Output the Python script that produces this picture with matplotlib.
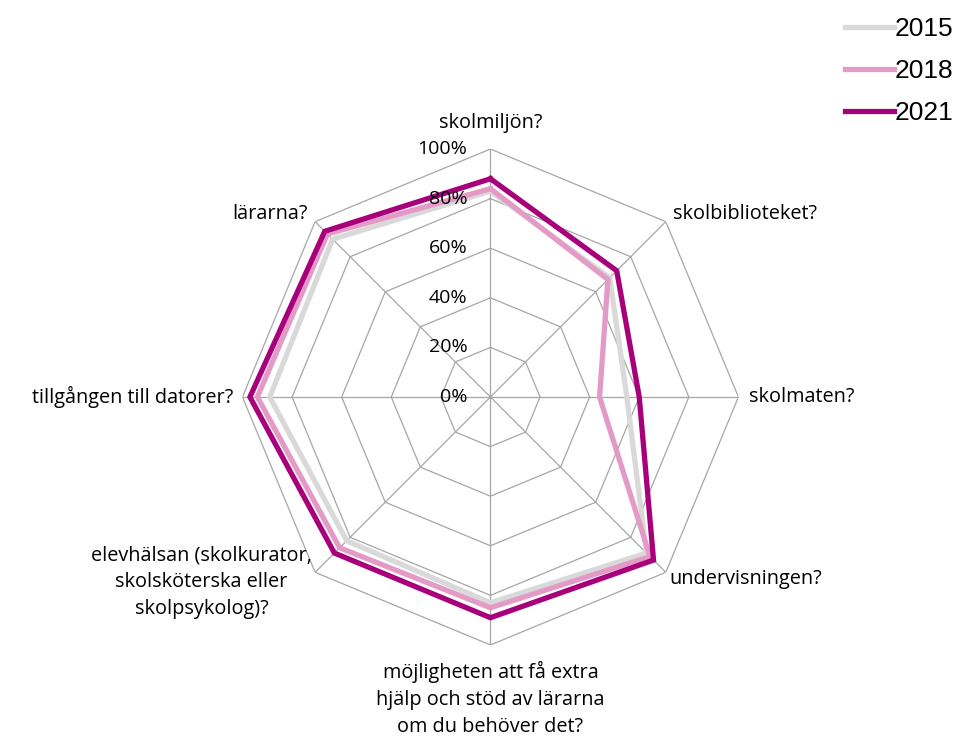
import numpy as np
import matplotlib
matplotlib.use("Agg")
import matplotlib.pyplot as plt

# ---- data ----
categories = [
    "skolmiljön?",
    "skolbiblioteket?",
    "skolmaten?",
    "undervisningen?",
    "möjligheten att få extra\nhjälp och stöd av lärarna\nom du behöver det?",
    "elevhälsan (skolkurator,\nskolsköterska eller\nskolpsykolog)?",
    "tillgången till datorer?",
    "lärarna?",
]
years = ["2015", "2018", "2021"]
v2015 = [0.83, 0.68, 0.55, 0.89, 0.83, 0.82, 0.89, 0.90]
v2018 = [0.84, 0.67, 0.44, 0.91, 0.85, 0.86, 0.94, 0.93]
v2021 = [0.88, 0.72, 0.60, 0.93, 0.89, 0.89, 0.97, 0.945]
colors = ["#d9d9d9", "#e49ac6", "#a8007a"]
levels = [0.0, 0.2, 0.4, 0.6, 0.8, 1.0]
level_labels = ["0%", "20%", "40%", "60%", "80%", "100%"]

plt.rcParams['font.family'] = ['Open Sans', 'DejaVu Sans']

n = len(categories)
theta = np.arange(n) * 2 * np.pi / n
theta_c = np.append(theta, theta[0])

fig = plt.figure(figsize=(9.63, 7.36), dpi=100)
ax = fig.add_axes([0.2518, 0.1236, 0.515, 0.674], projection='polar')
ax.set_theta_offset(np.pi / 2)
ax.set_theta_direction(-1)
ax.set_ylim(0, 1)
ax.grid(False)
ax.spines['polar'].set_visible(False)
ax.set_xticks([])
ax.set_yticks([])
ax.patch.set_alpha(0)

# octagon grid
for lv in levels[1:]:
    ax.plot(theta_c, [lv] * (n + 1), color="#a6a6a6", lw=0.9, zorder=1)
for t in theta:
    ax.plot([t, t], [0, 1], color="#a6a6a6", lw=0.9, zorder=1)

# series
for vals, col, yr in zip([v2015, v2018, v2021], colors, years):
    ax.plot(theta_c, vals + [vals[0]], color=col, lw=3.8, label=yr,
            solid_joinstyle='miter', zorder=3)

# percentage labels along top axis
for lv, lab in zip(levels, level_labels):
    ax.annotate(lab, xy=(0, lv), xytext=(-23, 0), textcoords='offset pixels',
                ha='right', va='center', fontsize=14, zorder=5)

# category labels
offsets = [
    (0, 16, 'center', 'bottom'),
    (7, 8, 'left', 'center'),
    (11, 0, 'left', 'center'),
    (4, -7, 'left', 'center'),
    (0, -16, 'center', 'top'),
    (-3, -10, 'right', 'center'),
    (-9, 0, 'right', 'center'),
    (-7, 8, 'right', 'center'),
]
for t, cat, (dx, dy, ha, va) in zip(theta, categories, offsets):
    ax.annotate(cat, xy=(t, 1.0), xytext=(dx, dy), textcoords='offset pixels',
                ha=ha, va=va, multialignment='center', fontsize=14.3,
                linespacing=1.45, annotation_clip=False)

fig.legend(loc='upper right', bbox_to_anchor=(1.015, 1.009), frameon=False,
           handlelength=1.85, handletextpad=0.05, labelspacing=0.68,
           prop={'family': ['Liberation Sans'], 'size': 19})

fig.savefig("out.png", dpi=100)
